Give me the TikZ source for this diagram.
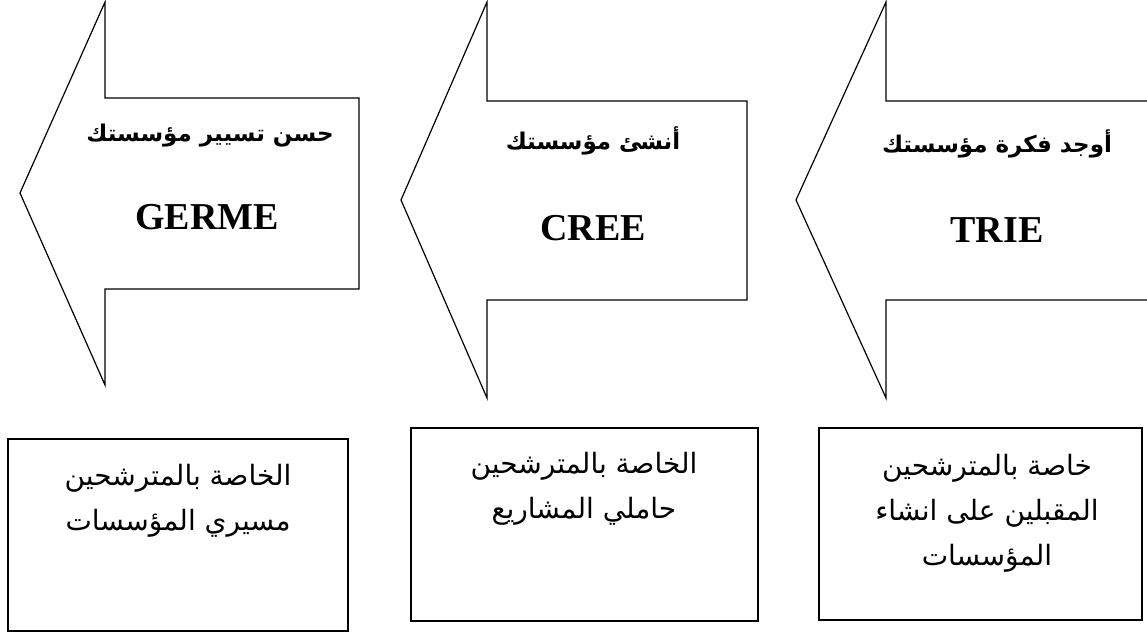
\documentclass[tikz,border=0pt]{standalone}
\usepackage{fontspec}
\setmainfont{Liberation Serif}
\newfontfamily\arabicfont[Script=Arabic]{DejaVu Sans}
\TeXXeTstate=1
\usetikzlibrary{positioning}

\begin{document}
\begin{tikzpicture}[x=0.5pt, y=-0.5pt,
    stagearrow/.style={line width=0.6pt, line join=miter},
    stagebox/.style={draw, line width=0.8pt, inner sep=0pt},
    headtext/.style={font=\arabicfont\bfseries\fontsize{11.5}{14}\selectfont},
    codetext/.style={font=\bfseries\fontsize{19}{22}\selectfont},
    boxtext/.style={align=center, font=\arabicfont\fontsize{14}{22.5}\selectfont}]
  \useasboundingbox (0,0) rectangle (1147,632);

  % arrows
  \draw[stagearrow] (359,98) -- (105,98) -- (105,2) -- (20,193) -- (105,385) -- (105,289) -- (359,289) -- cycle;
  \draw[stagearrow] (747,101) -- (487,101) -- (487,2) -- (401,200) -- (487,398) -- (487,300) -- (747,300) -- cycle;
  \draw[stagearrow] (1150,101) -- (886,101) -- (886,2) -- (796,200) -- (886,398) -- (886,300) -- (1150,300);

  \node[headtext] (head1) at (210,136) {\beginR حسن تسيير مؤسستك\endR};
  \node[codetext] (code1) at (207,217) {GERME};

  \node[headtext] (head2) at (593,141) {\beginR أنشئ مؤسستك\endR};
  \node[codetext] (code2) at (593,228) {CREE};

  \node[headtext] (head3) at (997,144) {\beginR أوجد فكرة مؤسستك\endR};
  \node[codetext] (code3) at (997,230) {TRIE};

  % boxes
  \node[stagebox, minimum width=170pt, minimum height=96pt] (box1) at (178,535) {};
  \node[stagebox, minimum width=173.5pt, minimum height=96.5pt] (box2) at (584.5,524.5) {};
  \node[stagebox, minimum width=161.5pt, minimum height=96pt] (box3) at (980.5,524) {};

  \node[boxtext] (txt1) at (178,501) {\beginR الخاصة بالمترشحين\endR\\ \beginR مسيري المؤسسات\endR};
  \node[boxtext] (txt2) at (584,489) {\beginR الخاصة بالمترشحين\endR\\ \beginR حاملي المشاريع\endR};
  \node[boxtext] (txt3) at (987,513) {\beginR خاصة بالمترشحين\endR\\ \beginR المقبلين على انشاء\endR\\ \beginR المؤسسات\endR};
\end{tikzpicture}
\end{document}
